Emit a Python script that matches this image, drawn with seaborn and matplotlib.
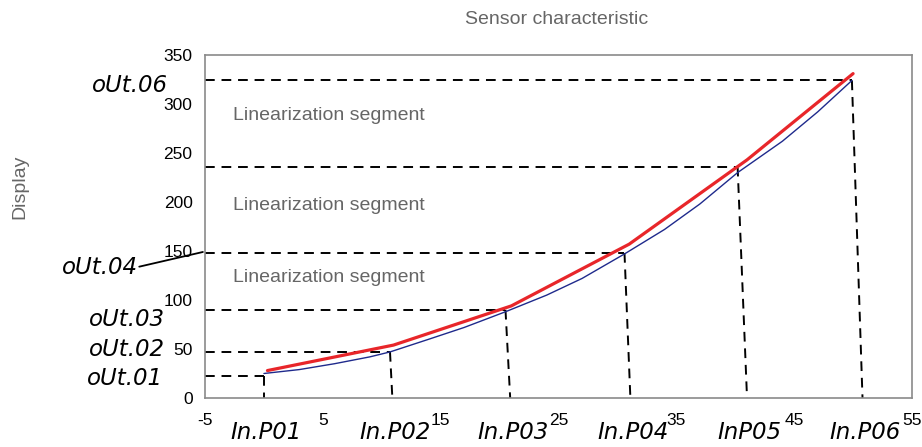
import matplotlib
matplotlib.use("Agg")
import matplotlib.pyplot as plt
import seaborn as sns
import pandas as pd

# ---- data ----
inp_top = [0.0, 10.7, 20.5, 30.6, 40.2, 49.9]      # x where dashed drop starts (on curve)
inp_bottom = [0.0, 10.9, 20.9, 31.1, 41.0, 50.8]   # x where dashed drop meets axis
out_vals = [22, 47, 90, 148, 236, 324]
inp_labels = ["In.P01", "In.P02", "In.P03", "In.P04", "InP05", "In.P06"]
out_labels = ["oUt.01", "oUt.02", "oUt.03", "oUt.04", "oUt.06"]

red_x = [0.3, 11.0, 21.0, 31.0, 41.0, 50.0]
red_y = [28, 54, 94, 157, 243, 331]

blue_x = [0, 3, 6, 9, 10.7, 14, 17, 20.5, 24, 27, 30.6, 34, 37, 40.2, 44, 47, 49.9]
blue_y = [25, 29, 35, 42, 47, 60, 72, 88, 105, 122, 147, 172, 198, 230, 262, 292, 324]

x_ticks = [-5, 5, 15, 25, 35, 45, 55]
y_ticks = [0, 50, 100, 150, 200, 250, 300, 350]
segment_text = "Linearization segment"
segment_y = [288, 196, 123]
title = "Sensor characteristic"
ylabel = "Display"

sns.set_style("white")
plt.rcParams["font.family"] = ["Liberation Sans", "DejaVu Sans"]

fig = plt.figure(figsize=(9.22, 4.47), dpi=100)
ax = fig.add_axes([205 / 922, 1 - 398 / 447, 707 / 922, 343 / 447])

red_df = pd.DataFrame({"x": red_x, "y": red_y})
blue_df = pd.DataFrame({"x": blue_x, "y": blue_y})
sns.lineplot(data=blue_df, x="x", y="y", ax=ax, color="#1f2a8c", linewidth=1.0,
             sort=False, estimator=None, zorder=3)
sns.lineplot(data=red_df, x="x", y="y", ax=ax, color="#e8262a", linewidth=2.3,
             sort=False, estimator=None, zorder=4)

dash = dict(color="black", linewidth=1.4, linestyle=(0, (5, 3.5)), zorder=2)
for xt, xb, yv in zip(inp_top, inp_bottom, out_vals):
    ax.plot([-5, xt], [yv, yv], **dash)
    ax.plot([xt, xb], [yv, 0], **dash)

ax.set_xlim(-5, 55)
ax.set_ylim(0, 350)
ax.set_xticks(x_ticks)
ax.set_yticks(y_ticks)
ax.set_xticklabels([str(v) for v in x_ticks])
ax.tick_params(axis="both", length=5, width=1, color="#888888", labelsize=12.5,
               labelcolor="black", pad=4)
ax.tick_params(axis="x", pad=6)
for sp in ax.spines.values():
    sp.set_color("#8a8a8a")
    sp.set_linewidth(1.2)
ax.set_xlabel("")
ax.set_ylabel("")

for yv in segment_y:
    ax.text(-2.6, yv, segment_text, fontsize=14, color="#666666",
            va="center", ha="left")

fig.text(557 / 922, 1 - 20 / 447, title, fontsize=14, color="#666666",
         ha="center", va="center")
fig.text(20 / 922, 1 - 187 / 447, ylabel, fontsize=14, color="#666666",
         ha="center", va="center", rotation=90)

seg_font = dict(fontsize=16.5, style="italic", family=["DejaVu Sans"], color="black")
ytr = ax.get_yaxis_transform()
out_pos = [(-0.06, 20), (-0.057, 49), (-0.057, 80), (-0.095, 133), (-0.053, 319)]
for lab, (px, py) in zip(out_labels, out_pos):
    ax.text(px, py, lab, transform=ytr, ha="right", va="center", clip_on=False, **seg_font)
ax.plot([-0.093, -0.003], [134, 149], transform=ytr, color="black", linewidth=1.3,
        clip_on=False)

xtr = ax.get_xaxis_transform()
for lab, xb in zip(inp_labels, inp_bottom):
    ax.text(xb + 0.2, -0.10, lab, transform=xtr, ha="center", va="center",
            clip_on=False, **seg_font)

fig.savefig("out.png", dpi=100)
